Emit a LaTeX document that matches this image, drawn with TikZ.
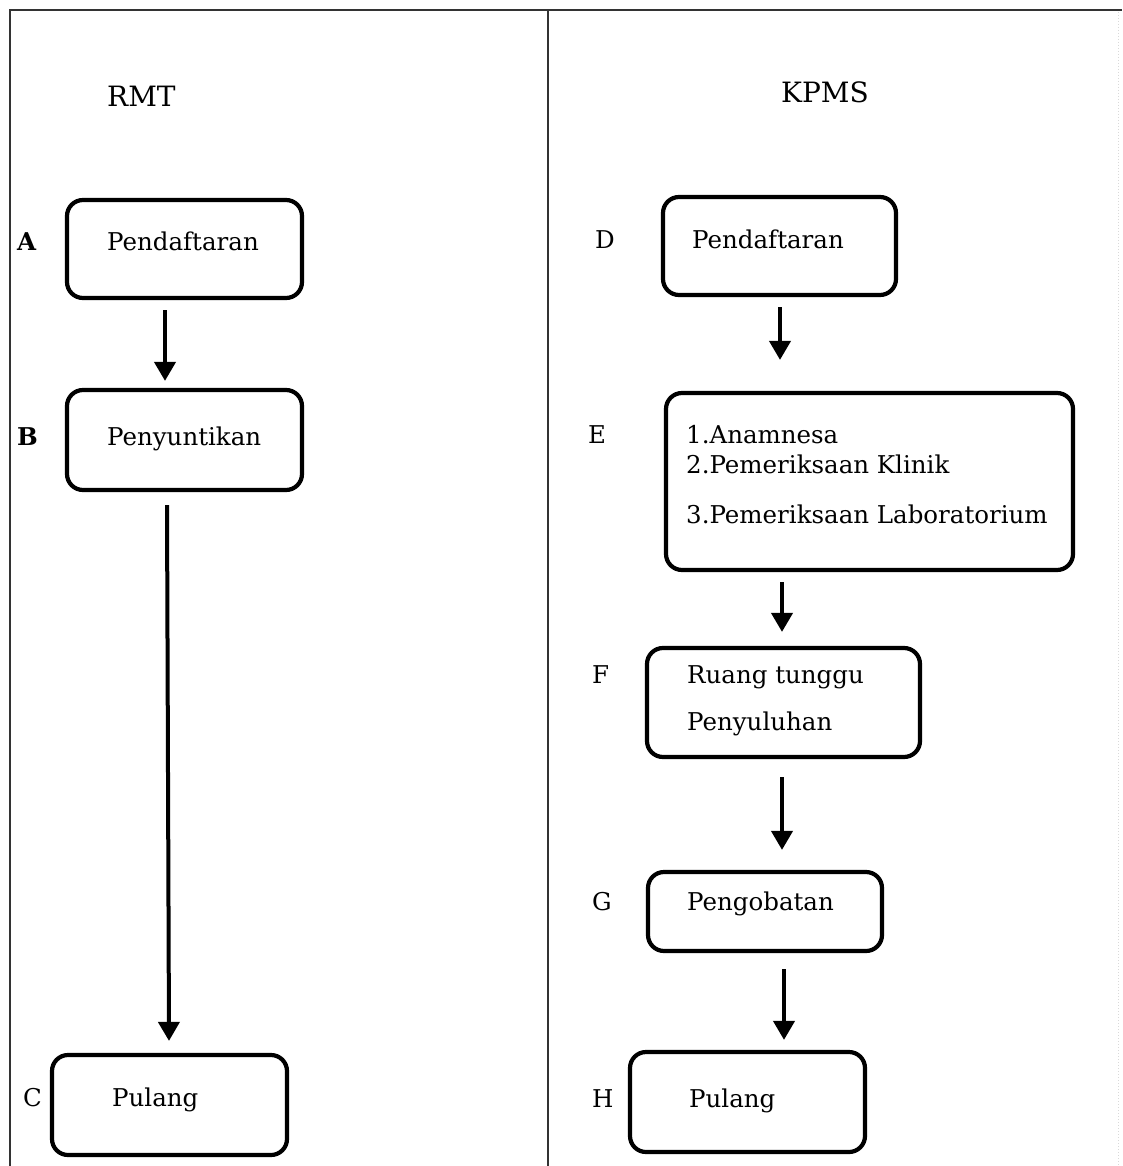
\documentclass[tikz,border=0pt]{standalone}
\usepackage{fontspec}
\setmainfont{DejaVu Serif}
\usetikzlibrary{arrows.meta}
\tikzset{
  box/.style={draw=black, line width=4.2pt, rounded corners=16pt, inner sep=0pt},
  txt/.style={anchor=base west, inner sep=0pt, font=\fontsize{24.5}{29}\selectfont},
  lbl/.style={anchor=base west, inner sep=0pt, font=\fontsize{24.5}{29}\selectfont},
  blbl/.style={anchor=base west, inner sep=0pt, font=\fontsize{24.5}{29}\selectfont\bfseries},
  ttl/.style={anchor=base west, inner sep=0pt, font=\fontsize{28}{33}\selectfont},
  arr/.style={line width=4pt, -{Triangle[width=21pt,length=19pt]}},
  frame/.style={line width=2pt, draw=black!80},
}
\begin{document}
\begin{tikzpicture}[x=1pt,y=-1pt]
\useasboundingbox (0,0) rectangle (1122,1166);
% frame
\draw[frame] (10,1166) -- (10,10) -- (1122,10);
\draw[frame] (548,10) -- (548,1166);
\draw[line width=1pt, draw=black!15, dotted] (1118,12) -- (1118,1166);
% titles
\node[ttl] (rmt) at (107,107) {RMT};
\node[ttl] (kpms) at (781,103) {KPMS};
% left column
\node[box, minimum width=235pt, minimum height=98pt] (A) at (184.5,249) {};
\node[box, minimum width=235pt, minimum height=100pt] (B) at (184.5,440) {};
\node[box, minimum width=235pt, minimum height=100pt] (C) at (169.5,1105) {};
\node[blbl] (Al) at (17,251) {A};
\node[txt] (At) at (107,251) {Pendaftaran};
\node[blbl] (Bl) at (17,445) {B};
\node[txt] (Bt) at (107,445) {Penyuntikan};
\node[lbl] (Cl) at (23,1106) {C};
\node[txt] (Ct) at (112,1106) {Pulang};
\draw[arr] ([xshift=-19.5pt,yshift=-10pt]A.south) -- ([xshift=-19.5pt,yshift=7pt]B.north);
\draw[arr] ([xshift=-17.5pt,yshift=-13pt]B.south) -- ([xshift=-0.5pt,yshift=12pt]C.north);
% right column
\node[box, minimum width=233pt, minimum height=98pt] (D) at (779.5,246) {};
\node[box, minimum width=407pt, minimum height=177pt] (E) at (869.5,481.5) {};
\node[box, minimum width=273pt, minimum height=109pt] (F) at (783.5,702.5) {};
\node[box, minimum width=234pt, minimum height=79pt] (G) at (765,911.5) {};
\node[box, minimum width=235pt, minimum height=100pt] (H) at (747.5,1102) {};
\node[lbl] (Dl) at (595,248) {D};
\node[txt] (Dt) at (692,248) {Pendaftaran};
\node[lbl] (El) at (588,443) {E};
\node[txt] (Et1) at (686,443) {1.Anamnesa};
\node[txt] (Et2) at (686,473) {2.Pemeriksaan Klinik};
\node[txt] (Et3) at (686,523) {3.Pemeriksaan Laboratorium};
\node[lbl] (Fl) at (592,683) {F};
\node[txt] (Ft1) at (687,683) {Ruang tunggu};
\node[txt] (Ft2) at (687,730) {Penyuluhan};
\node[lbl] (Gl) at (592,910) {G};
\node[txt] (Gt) at (687,910) {Pengobatan};
\node[lbl] (Hl) at (592,1107) {H};
\node[txt] (Ht) at (689,1107) {Pulang};
\draw[arr] ([xshift=0.5pt,yshift=-10pt]D.south) -- ([xshift=-89.5pt,yshift=31pt]E.north);
\draw[arr] ([xshift=-87.5pt,yshift=-10pt]E.south) -- ([xshift=-1.5pt,yshift=14pt]F.north);
\draw[arr] ([xshift=-1.5pt,yshift=-18pt]F.south) -- ([xshift=17pt,yshift=20pt]G.north);
\draw[arr] ([xshift=19pt,yshift=-16pt]G.south) -- ([xshift=36.5pt,yshift=10pt]H.north);
\end{tikzpicture}
\end{document}
